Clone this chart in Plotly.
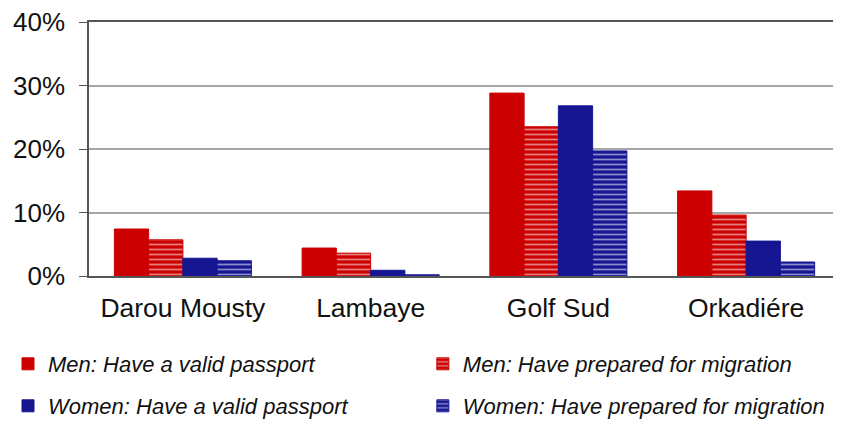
import plotly.graph_objects as go

sites = ["Darou Mousty", "Lambaye", "Golf Sud", "Orkadiére"]
men_passport = [7.4, 4.4, 28.8, 13.4]
men_prepared = [5.7, 3.6, 23.5, 9.6]
women_passport = [2.8, 0.9, 26.8, 5.5]
women_prepared = [2.4, 0.2, 19.7, 2.2]
y_ticks = [0, 10, 20, 30, 40]
y_tick_labels = ["0%", "10%", "20%", "30%", "40%"]

red = "#cc0000"
blue = "#161693"

fig = go.Figure()


def add_bar(name, values, color, striped, legend):
    marker = dict(color=color, line=dict(color=color, width=1))
    if striped:
        marker["pattern"] = dict(shape="-", fgcolor="white", bgcolor=color,
                                 size=5, solidity=0.35, fillmode="overlay")
    fig.add_trace(go.Bar(x=sites, y=values, name=name, marker=marker,
                         legend=legend))


add_bar("Men: Have a valid passport", men_passport, red, False, "legend")
add_bar("Men: Have prepared for migration", men_prepared, red, True, "legend2")
add_bar("Women: Have a valid passport", women_passport, blue, False, "legend3")
add_bar("Women: Have prepared for migration", women_prepared, blue, True, "legend4")


def legend_box(x, y):
    return dict(
        orientation="h", xref="container", yref="container",
        x=x, y=y, xanchor="left", yanchor="middle",
        font=dict(family="Liberation Sans, Arial", size=22, color="#111",
                  style="italic"),
        bgcolor="rgba(0,0,0,0)",
    )


fig.update_layout(
    width=833, height=415,
    margin=dict(l=81, r=1, t=14, b=147, autoexpand=False),
    paper_bgcolor="white", plot_bgcolor="white",
    barmode="group", bargap=0.27, bargroupgap=0,
    font=dict(family="Liberation Sans, Arial", size=26, color="#111"),
    showlegend=True,
    legend=legend_box(-0.003, 1 - 356 / 415),
    legend2=legend_box(0.498, 1 - 356 / 415),
    legend3=legend_box(-0.003, 1 - 398 / 415),
    legend4=legend_box(0.498, 1 - 398 / 415),
    xaxis=dict(showline=True, linecolor="#555", linewidth=1.5, mirror=True,
               ticks="", ticklabelstandoff=7,
               tickfont=dict(size=26.5, color="#111")),
    yaxis=dict(range=[0, 40], tickmode="array", tickvals=y_ticks,
               ticktext=y_tick_labels, ticklabeloverflow="allow",
               showline=True, linecolor="#555", linewidth=1.5, mirror=True,
               ticks="outside", ticklen=8, tickcolor="#555",
               showgrid=True, gridcolor="#a6a6a6", gridwidth=1.5,
               zeroline=False, ticklabelstandoff=9,
               tickfont=dict(size=26, color="#111")),
)

fig.write_html("out.html")
